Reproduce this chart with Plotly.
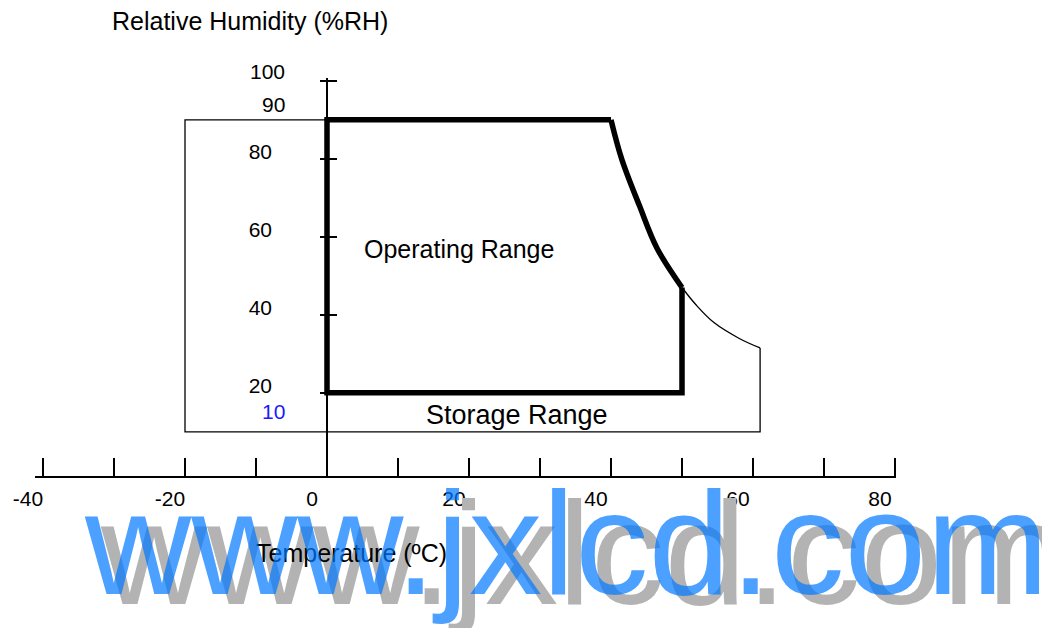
import plotly.graph_objects as go

# ---- data (temperature degC, relative humidity %RH) ----
op_straight_T = [50, 50, 0, 0, 40]
op_straight_RH = [47, 20, 20, 90, 90]
op_curve_T = [40, 41.5, 44, 46.5, 50]
op_curve_RH = [90, 80, 68, 57, 47]

st_straight_T = [61, 61, -20, -20, 40]
st_straight_RH = [31.5, 10, 10, 90, 90]
st_curve_T = [50, 52, 54.5, 58, 61]
st_curve_RH = [47, 42.5, 38, 34, 31.5]

x_ticks = [-40, -30, -20, -10, 0, 10, 20, 30, 40, 50, 60, 70, 80]
x_ticklabels = ["-40", "", "-20", "", "0", "", "20", "", "40", "", "60", "", "80"]
y_ticks = [20, 40, 60, 80, 100]
y_ticklabels = ["20", "40", "60", "80", ""]
extra_y_labels = ["100", "90", "10"]
extra_y_values = [100, 90, 10]
extra_y_colors = ["black", "black", "#1a1aff"]
extra_y_shifts = [9, 15, 20]

W, H = 1050, 628
OFF = 8  # page body margin
FONT = "Liberation Sans, Arial, sans-serif"

# pixel calibration of the original drawing (screen px)
x0_px, x_scale = 327 - OFF, 7.1
y0_px, y_scale = 470.8 - OFF, 3.9
x_dom_px = (35 - OFF, 896 - OFF)
y_dom_px = (78 - OFF, 476 - OFF)

x_range = [(x_dom_px[0] - x0_px) / x_scale, (x_dom_px[1] - x0_px) / x_scale]
y_range = [(y0_px - y_dom_px[1]) / y_scale, (y0_px - y_dom_px[0]) / y_scale]
x_domain = [x_dom_px[0] / W, x_dom_px[1] / W]
y_domain = [(H - y_dom_px[1]) / H, (H - y_dom_px[0]) / H]


def px(x):
    return (x - OFF) / W


def py(y):
    return 1 - (y - OFF) / H


fig = go.Figure()

thin = dict(color="black", width=1.3)
thick = dict(color="black", width=5.5)
fig.add_trace(go.Scatter(x=st_straight_T, y=st_straight_RH, mode="lines", line=thin,
                         hoverinfo="skip", showlegend=False))
fig.add_trace(go.Scatter(x=st_curve_T, y=st_curve_RH, mode="lines",
                         line=dict(thin, shape="spline", smoothing=1),
                         hoverinfo="skip", showlegend=False))
fig.add_trace(go.Scatter(x=op_straight_T, y=op_straight_RH, mode="lines", line=thick,
                         hoverinfo="skip", showlegend=False))
fig.add_trace(go.Scatter(x=op_curve_T, y=op_curve_RH, mode="lines",
                         line=dict(thick, shape="spline", smoothing=1),
                         hoverinfo="skip", showlegend=False))
# dummy trace to activate secondary y axis (inside ticks)
fig.add_trace(go.Scatter(x=[None], y=[None], yaxis="y2", showlegend=False, hoverinfo="skip"))

fig.update_layout(
    width=W, height=H,
    margin=dict(l=0, r=0, t=0, b=0),
    paper_bgcolor="white", plot_bgcolor="white",
    font=dict(family=FONT, color="black"),
    xaxis=dict(domain=x_domain, range=x_range, anchor="y",
               tickvals=x_ticks, ticktext=x_ticklabels,
               ticks="inside", ticklen=18, tickwidth=1.5, tickcolor="black",
               showline=True, linecolor="black", linewidth=2,
               showgrid=False, zeroline=False,
               tickfont=dict(size=21, family=FONT, color="black"),
               ticklabelshift=-15, ticklabelstandoff=3, automargin=False),
    yaxis=dict(domain=y_domain, range=y_range, anchor="free",
               position=x0_px / W,
               tickvals=y_ticks, ticktext=y_ticklabels,
               ticks="outside", ticklen=6, tickwidth=1.5, tickcolor="black",
               showline=True, linecolor="black", linewidth=1.5,
               showgrid=False, zeroline=False,
               tickfont=dict(size=21, family=FONT, color="black"),
               ticklabelshift=-7, ticklabelstandoff=44, automargin=False),
    yaxis2=dict(domain=y_domain, range=y_range, anchor="free",
                position=x0_px / W, overlaying="y",
                tickvals=y_ticks, showticklabels=False,
                ticks="inside", ticklen=9, tickwidth=1.5, tickcolor="black",
                showline=False, showgrid=False, zeroline=False, automargin=False),
)

annotations = []
for lab, val, col, sh in zip(extra_y_labels, extra_y_values, extra_y_colors, extra_y_shifts):
    annotations.append(dict(x=0, y=val, xref="x", yref="y", text=lab, showarrow=False,
                            xanchor="right", yanchor="middle", xshift=-40, yshift=sh,
                            font=dict(size=21, family=FONT, color=col)))

annotations.append(dict(x=18.6, y=56.9, xref="x", yref="y", text="Operating Range",
                        showarrow=False, font=dict(size=25, family=FONT, color="black")))
annotations.append(dict(x=26.8, y=14.3, xref="x", yref="y", text="Storage Range",
                        showarrow=False, font=dict(size=27, family=FONT, color="black")))
annotations.append(dict(x=px(250), y=py(21), xref="paper", yref="paper",
                        text="Relative Humidity (%RH)", showarrow=False,
                        xanchor="center", yanchor="middle",
                        font=dict(size=25, family=FONT, color="black")))

# watermark: gray shadow, axis title, blue text
wm_x, wm_y = px(82), py(543)
annotations.append(dict(x=wm_x, y=wm_y, xref="paper", yref="paper", text="www.jxlcd.com",
                        showarrow=False, xanchor="left", yanchor="middle",
                        xshift=16, yshift=-10,
                        font=dict(size=147, family=FONT, color="rgb(179,179,179)")))
annotations.append(dict(x=px(351), y=py(553), xref="paper", yref="paper",
                        text="Temperature (ºC)", showarrow=False,
                        xanchor="center", yanchor="middle",
                        font=dict(size=25, family=FONT, color="black")))
annotations.append(dict(x=wm_x, y=wm_y, xref="paper", yref="paper", text="www.jxlcd.com",
                        showarrow=False, xanchor="left", yanchor="middle",
                        font=dict(size=147, family=FONT, color="rgba(0,120,255,0.7)")))

fig.update_layout(annotations=annotations)

fig.write_html("out.html")
